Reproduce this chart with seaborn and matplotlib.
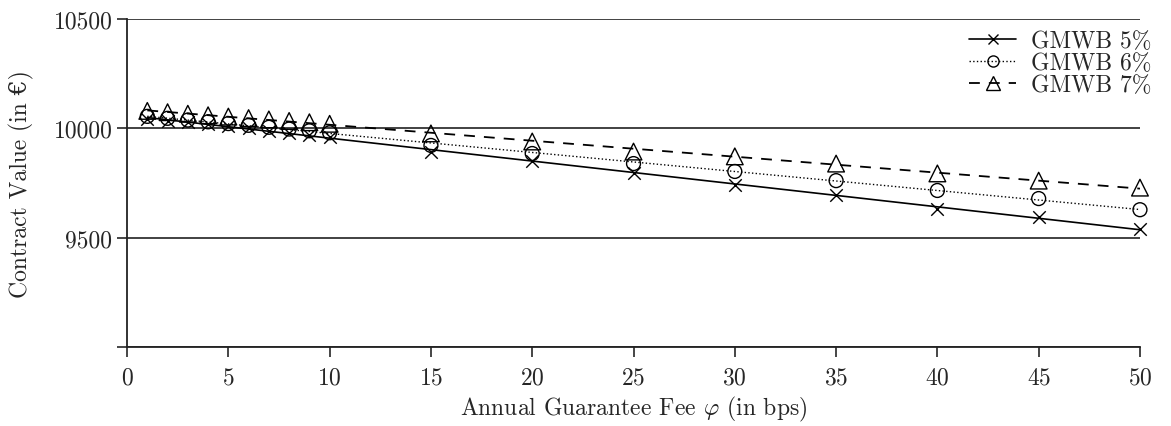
import numpy as np
import pandas as pd
import matplotlib
matplotlib.use("Agg")
import matplotlib.pyplot as plt
import seaborn as sns

fees = [1, 2, 3, 4, 5, 6, 7, 8, 9, 10, 15, 20, 25, 30, 35, 40, 45, 50]
gmwb5 = [10045, 10036, 10027, 10018, 10009, 10000, 9990, 9981, 9972, 9960,
         9894, 9853, 9794, 9739, 9693, 9633, 9596, 9541]
gmwb6 = [10055, 10046, 10038, 10030, 10022, 10014, 10005, 9997, 9989, 9980,
         9922, 9885, 9839, 9803, 9761, 9716, 9679, 9628]
gmwb7 = [10080, 10074, 10067, 10060, 10054, 10047, 10041, 10034, 10028, 10021,
         9977, 9940, 9894, 9872, 9839, 9794, 9761, 9729]
series_names = ["GMWB 5%", "GMWB 6%", "GMWB 7%"]
xticks = [0, 5, 10, 15, 20, 25, 30, 35, 40, 45, 50]
yticks = [9000, 9500, 10000, 10500]
yticklabels = ["", "9500", "10000", "10500"]

sns.set_style("ticks")
plt.rcParams["font.family"] = ["cmr10", "DejaVu Serif"]
plt.rcParams["mathtext.fontset"] = "cm"
plt.rcParams["axes.formatter.use_mathtext"] = True

fig = plt.figure(figsize=(11.71, 4.27), dpi=100)
ax = fig.add_axes([0.1085, 0.185, 0.865, 0.768])

styles = [
    dict(marker="x", ls="-", ms=9, lw=1.2),
    dict(marker="o", ls=":", ms=10, lw=1.0),
    dict(marker="^", ls=(0, (6, 5)), ms=12, lw=1.3),
]
handles = []
for name, vals, st in zip(series_names, [gmwb5, gmwb6, gmwb7], styles):
    df = pd.DataFrame({"fee": fees, "value": vals})
    sns.regplot(data=df, x="fee", y="value", ax=ax, ci=None, scatter=False,
                color="black", line_kws=dict(ls=st["ls"], lw=st["lw"]))
    sns.scatterplot(data=df, x="fee", y="value", ax=ax, marker=st["marker"],
                    s=st["ms"] ** 2, facecolor="none" if st["marker"] != "x" else "black",
                    edgecolor="black", linewidth=1.0, color="black", zorder=3,
                    clip_on=False)
    h, = ax.plot([], [], color="black", marker=st["marker"], ls=st["ls"],
                 lw=st["lw"], ms=st["ms"] * 0.8, mfc="none", mec="black", label=name)
    handles.append(h)

ax.set_xlim(0, 50)
ax.set_ylim(9000, 10500)
ax.set_xticks(xticks)
ax.set_yticks(yticks)
ax.set_yticklabels(yticklabels)
ax.yaxis.grid(True, color="#333333", lw=1.3)
ax.set_axisbelow(True)
sns.despine(ax=ax, top=True, right=True)
for sp in ["left", "bottom"]:
    ax.spines[sp].set_linewidth(1.3)
    ax.spines[sp].set_color("#222222")
ax.tick_params(axis="both", labelsize=17, length=7, width=1.2, direction="out")
ax.tick_params(axis="x", pad=7)
ax.set_xlabel(r"Annual Guarantee Fee $\varphi$ (in bps)", fontsize=17, labelpad=4)
ax.set_ylabel("Contract Value (in €)", fontsize=17, labelpad=14)
ax.legend(handles=handles, loc="upper right", bbox_to_anchor=(1.025, 1.01),
          frameon=False, fontsize=17, handlelength=2.0, borderaxespad=0.2,
          labelspacing=0.0, handletextpad=0.6)

fig.savefig("out.png", dpi=100)
